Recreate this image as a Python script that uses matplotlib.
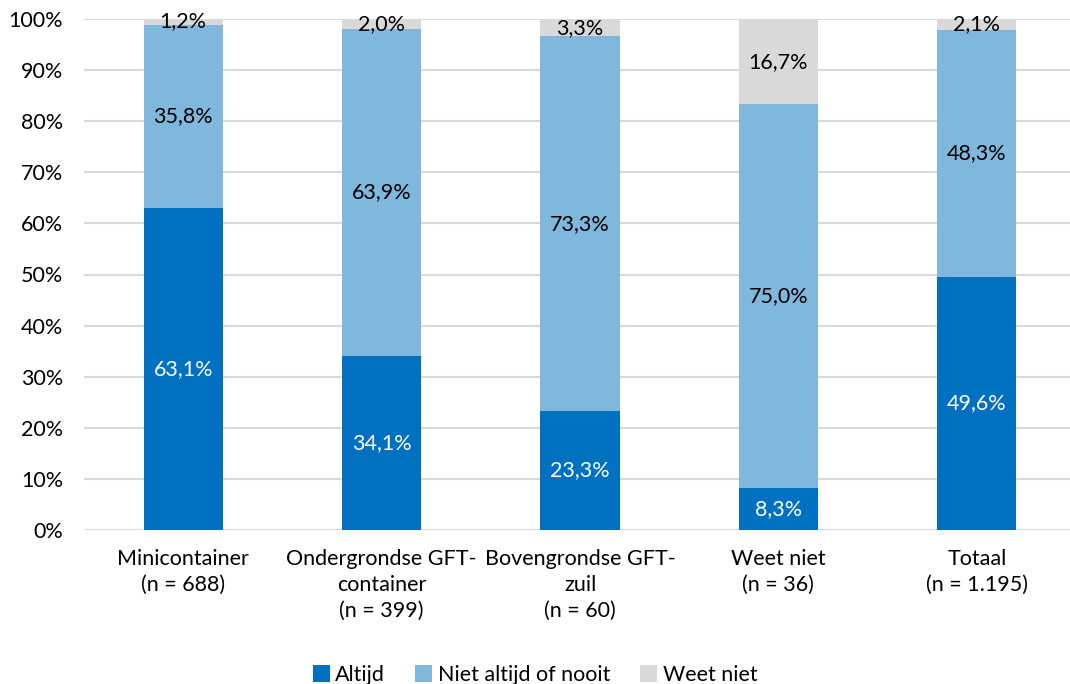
import matplotlib
matplotlib.use("Agg")
import matplotlib.pyplot as plt
import numpy as np

categories = ["Minicontainer\n(n = 688)", "Ondergrondse GFT-\ncontainer\n(n = 399)",
              "Bovengrondse GFT-\nzuil\n(n = 60)", "Weet niet\n(n = 36)", "Totaal\n(n = 1.195)"]
altijd = [63.1, 34.1, 23.3, 8.3, 49.6]
niet_altijd = [35.8, 63.9, 73.3, 75.0, 48.3]
weet_niet = [1.2, 2.0, 3.3, 16.7, 2.1]
series_names = ["Altijd", "Niet altijd of nooit", "Weet niet"]
colors = ["#0070C0", "#7FB7DD", "#D9D9D9"]
label_colors = ["white", "black", "black"]

plt.rcParams['font.family'] = ['Lato', 'DejaVu Sans']
FS = 15.5

fig = plt.figure(figsize=(10.70, 6.84), dpi=100)
ax = fig.add_axes([84/1070, (684-530)/684, 992/1070, 511/684])

x = np.arange(len(categories))
bottom = np.zeros(len(categories))
for vals, name, c, lc in zip([altijd, niet_altijd, weet_niet], series_names, colors, label_colors):
    vals = np.array(vals)
    ax.bar(x, vals, 0.4, bottom=bottom, color=c, label=name, zorder=3)
    for xi, b, v in zip(x, bottom, vals):
        ax.text(xi, b + v/2, f"{v:.1f}%".replace(".", ","), ha="center", va="center",
                color=lc, fontsize=FS, zorder=4)
    bottom += vals

ax.set_xlim(-0.5, len(categories) - 0.5)
ax.set_ylim(0, 100)
ax.set_yticks(np.arange(0, 101, 10))
ax.set_yticklabels([f"{v}%" for v in range(0, 101, 10)], fontsize=FS)
ax.set_xticks(x)
ax.set_xticklabels(categories, fontsize=FS, linespacing=1.35, va="top")
ax.tick_params(axis="y", length=0, pad=15)
ax.tick_params(axis="x", length=0, pad=14)
ax.yaxis.grid(True, color="#D9D9D9", linewidth=1.5, zorder=0)
for s in ax.spines.values():
    s.set_visible(False)

fig.legend(loc="lower center", bbox_to_anchor=(0.5, -0.03), ncol=3, frameon=False,
           fontsize=FS, handlelength=0.8, handleheight=0.8, handletextpad=0.25, columnspacing=1.4)

fig.savefig("out.png", dpi=100)
